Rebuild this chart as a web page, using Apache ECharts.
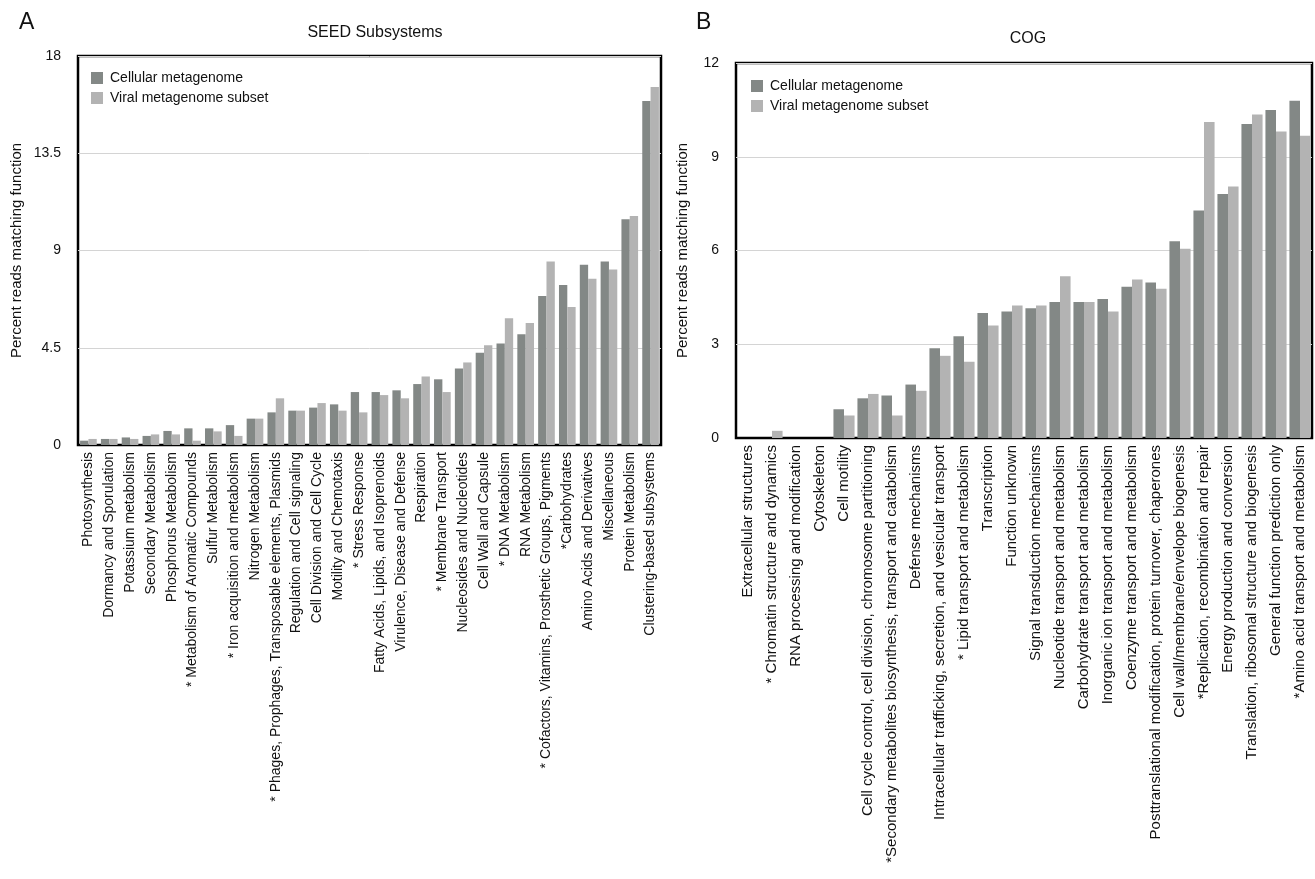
<!DOCTYPE html>
<html>
<head>
<meta charset="utf-8">
<script src="https://cdn.jsdelivr.net/npm/echarts@6/dist/echarts.min.js"></script>
<style>
  html, body { margin: 0; padding: 0; background: #fff; }
  #chart { width: 1315px; height: 879px; }
</style>
</head>
<body>
<div id="chart"></div>
<script>
// Panel A: SEED subsystem categories
const seedCategories = [
  'Photosynthesis', 'Dormancy and Sporulation', 'Potassium metabolism', 'Secondary Metabolism',
  'Phosphorus Metabolism', '* Metabolism of Aromatic Compounds', 'Sulfur Metabolism',
  '* Iron acquisition and metabolism', 'Nitrogen Metabolism',
  '* Phages, Prophages, Transposable elements, Plasmids', 'Regulation and Cell signaling',
  'Cell Division and Cell Cycle', 'Motility and Chemotaxis', '* Stress Response',
  'Fatty Acids, Lipids, and Isoprenoids', 'Virulence, Disease and Defense', 'Respiration',
  '* Membrane Transport', 'Nucleosides and Nucleotides', 'Cell Wall and Capsule',
  '* DNA Metabolism', 'RNA Metabolism', '* Cofactors, Vitamins, Prosthetic Groups, Pigments',
  '*Carbohydrates', 'Amino Acids and Derivatives', 'Miscellaneous', 'Protein Metabolism',
  'Clustering-based subsystems'
];
const seedCellular = [0.20, 0.28, 0.35, 0.42, 0.65, 0.77, 0.77, 0.92, 1.22, 1.51, 1.59, 1.73, 1.88, 2.45,
  2.45, 2.53, 2.82, 3.04, 3.54, 4.27, 4.70, 5.13, 6.89, 7.40, 8.34, 8.49, 10.45, 15.92];
const seedViral = [0.28, 0.28, 0.28, 0.49, 0.49, 0.20, 0.63, 0.42, 1.22, 2.16, 1.59, 1.94, 1.59, 1.51,
  2.31, 2.16, 3.17, 2.45, 3.82, 4.62, 5.87, 5.65, 8.49, 6.38, 7.69, 8.12, 10.60, 16.56];
const seedTicks = { min: 0, max: 18, interval: 4.5 };

// Panel B: COG functional categories
const cogCategories = [
  'Extracellular structures', '* Chromatin structure and dynamics', 'RNA processing and modification',
  'Cytoskeleton', 'Cell motility', 'Cell cycle control, cell division, chromosome partitioning',
  '*Secondary metabolites biosynthesis, transport and catabolism', 'Defense mechanisms',
  'Intracellular trafficking, secretion, and vesicular transport', '* Lipid transport and metabolism',
  'Transcription', 'Function unknown', 'Signal transduction mechanisms',
  'Nucleotide transport and metabolism', 'Carbohydrate transport and metabolism',
  'Inorganic ion transport and metabolism', 'Coenzyme transport and metabolism',
  'Posttranslational modification, protein turnover, chaperones',
  'Cell wall/membrane/envelope biogenesis', '*Replication, recombination and repair',
  'Energy production and conversion', 'Translation, ribosomal structure and biogenesis',
  'General function prediction only', '*Amino acid transport and metabolism'
];
const cogCellular = [0, 0, 0, 0, 0.92, 1.27, 1.36, 1.71, 2.87, 3.26, 4.00, 4.05, 4.15, 4.35, 4.35, 4.45,
  4.84, 4.98, 6.30, 7.28, 7.81, 10.05, 10.50, 10.79];
const cogViral = [0, 0.23, 0, 0, 0.72, 1.41, 0.72, 1.51, 2.63, 2.44, 3.60, 4.24, 4.24, 5.18, 4.35, 4.05,
  5.07, 4.78, 6.06, 10.11, 8.05, 10.35, 9.81, 9.67];
const cogTicks = { min: 0, max: 12, interval: 3 };

const seriesNames = ['Cellular metagenome', 'Viral metagenome subset'];
const DARK = '#838886';
const LIGHT = '#b3b3b3';
const FONT = 'Liberation Sans, Arial, Helvetica, sans-serif';

const chart = echarts.init(document.getElementById('chart'), null, { renderer: 'canvas' });

function yAxisFor(gridIndex, ticks, nameGap) {
  return {
    gridIndex, type: 'value', min: ticks.min, max: ticks.max, interval: ticks.interval,
    name: 'Percent reads matching function', nameLocation: 'middle', nameGap,
    nameTextStyle: { fontFamily: FONT, fontSize: 15, color: '#111' },
    axisLine: { show: false }, axisTick: { show: false },
    axisLabel: { fontFamily: FONT, fontSize: 14, color: '#111', margin: 17 },
    splitLine: { show: true, lineStyle: { color: '#d4d4d4', width: 1 } }
  };
}

function xAxisFor(gridIndex, cats, fontSize) {
  return {
    gridIndex, type: 'category', data: cats,
    axisLine: { show: true, lineStyle: { color: '#000', width: 2 } },
    axisTick: { show: false },
    axisLabel: { interval: 0, rotate: 90, fontFamily: FONT, fontSize, color: '#111', margin: 7 }
  };
}

function barSeries(name, xi, data, color, catGap) {
  return {
    name, type: 'bar', xAxisIndex: xi, yAxisIndex: xi, data,
    itemStyle: { color }, barGap: '0%', barCategoryGap: catGap,
    emphasis: { disabled: true }
  };
}

chart.setOption({
  animation: false,
  backgroundColor: '#fff',
  title: [
    { text: 'A', left: 14, top: 6, textStyle: { fontFamily: FONT, fontSize: 23, fontWeight: 'normal', color: '#111' } },
    { text: 'SEED Subsystems', left: 370, top: 20, textAlign: 'center', textStyle: { fontFamily: FONT, fontSize: 16, fontWeight: 'normal', color: '#111' } },
    { text: 'B', left: 691, top: 6, textStyle: { fontFamily: FONT, fontSize: 23, fontWeight: 'normal', color: '#111' } },
    { text: 'COG', left: 1023, top: 26, textAlign: 'center', textStyle: { fontFamily: FONT, fontSize: 16, fontWeight: 'normal', color: '#111' } }
  ],
  legend: [
    {
      data: seriesNames, orient: 'vertical', left: 86, top: 66, itemWidth: 12, itemHeight: 12,
      itemGap: 6, icon: 'rect', selectedMode: false,
      textStyle: { fontFamily: FONT, fontSize: 14, color: '#111', padding: [0, 0, 0, 2] }
    },
    {
      data: seriesNames, orient: 'vertical', left: 746, top: 74, itemWidth: 12, itemHeight: 12,
      itemGap: 6, icon: 'rect', selectedMode: false,
      textStyle: { fontFamily: FONT, fontSize: 14, color: '#111', padding: [0, 0, 0, 2] }
    }
  ],
  grid: [
    { left: 78, top: 56, width: 583, height: 389, show: true, borderColor: '#000', borderWidth: 2.5, backgroundColor: 'transparent' },
    { left: 736, top: 63, width: 576, height: 375, show: true, borderColor: '#000', borderWidth: 2.5, backgroundColor: 'transparent' }
  ],
  xAxis: [xAxisFor(0, seedCategories, 14), xAxisFor(1, cogCategories, 15)],
  yAxis: [yAxisFor(0, seedTicks, 54), yAxisFor(1, cogTicks, 46)],
  series: [
    barSeries(seriesNames[0], 0, seedCellular, DARK, '20%'),
    barSeries(seriesNames[1], 0, seedViral, LIGHT, '20%'),
    barSeries(seriesNames[0], 1, cogCellular, DARK, '12%'),
    barSeries(seriesNames[1], 1, cogViral, LIGHT, '12%')
  ]
});
</script>
</body>
</html>
